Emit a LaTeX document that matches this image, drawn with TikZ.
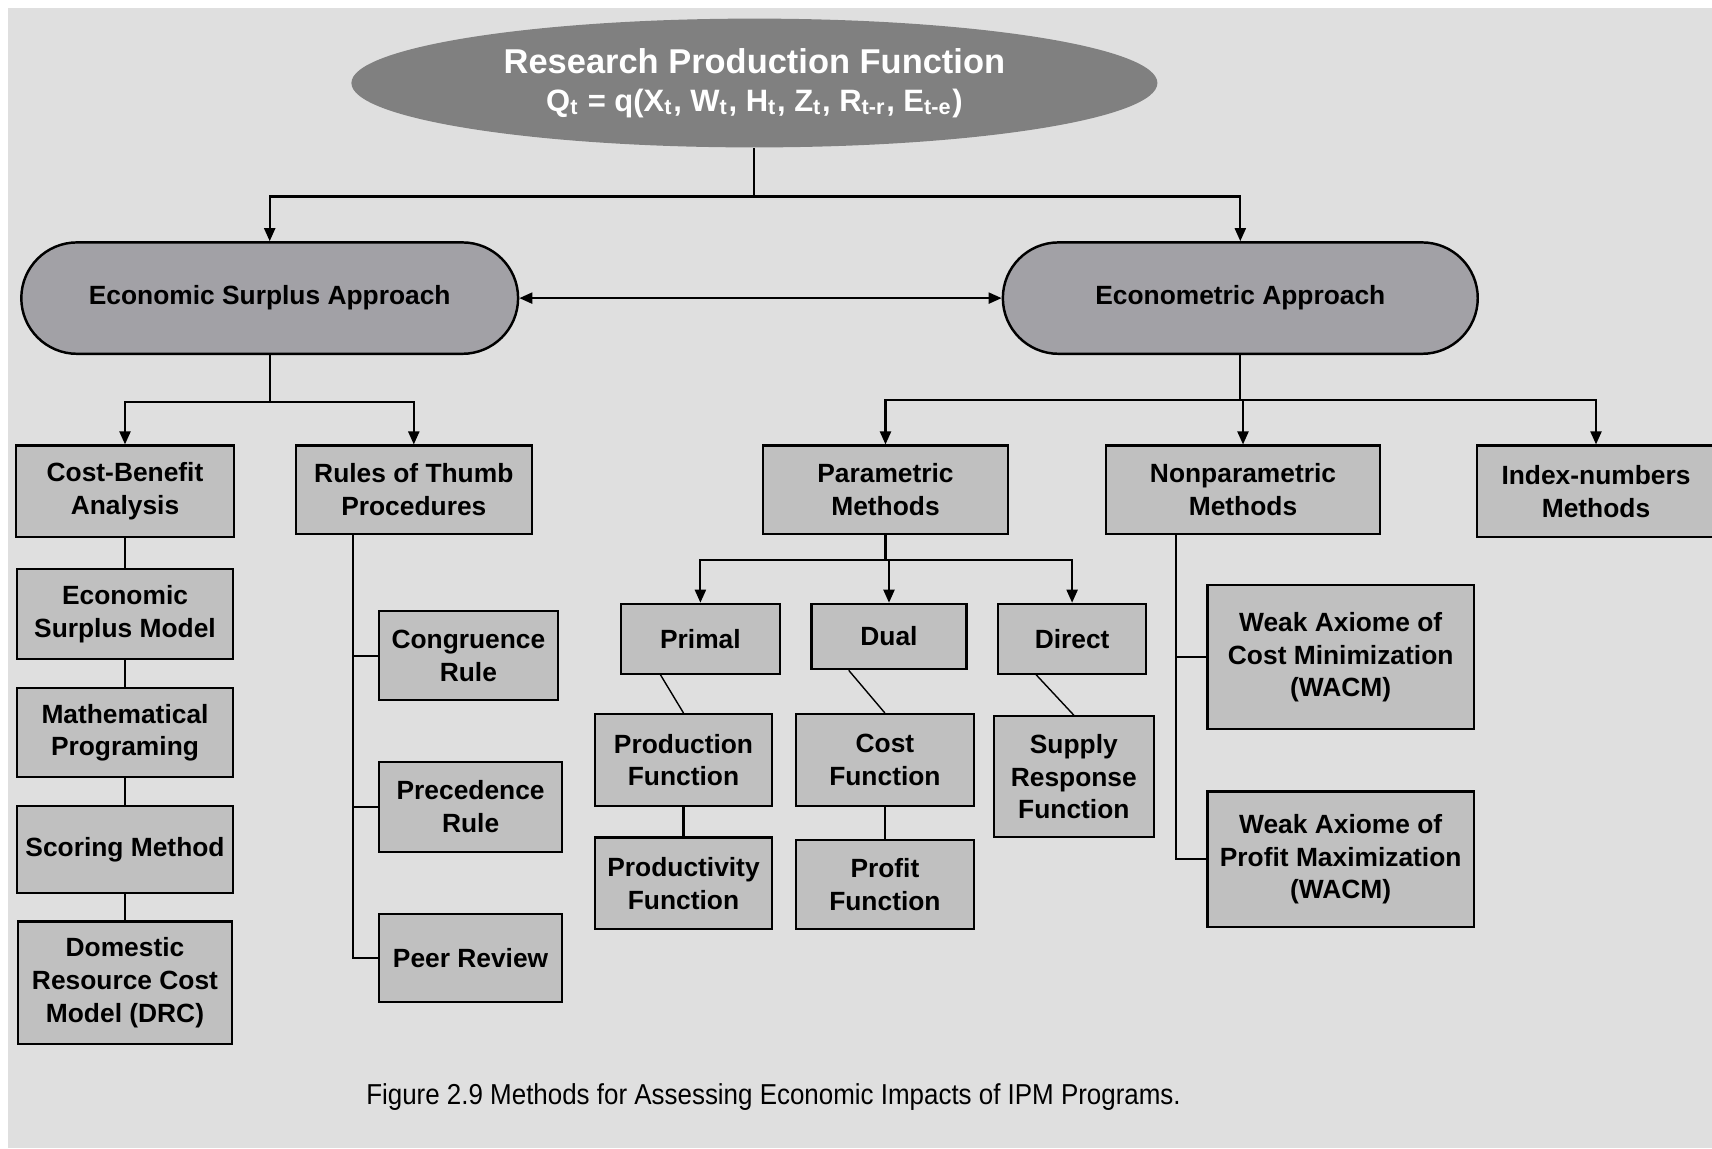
\documentclass[tikz,border=0pt]{standalone}
\usepackage{fontspec}
\setmainfont{Liberation Sans}
\newfontfamily\capfont[FakeStretch=0.9]{Liberation Sans}
\usepackage{xcolor}
\usetikzlibrary{arrows.meta}
\usetikzlibrary{shapes.geometric, shapes.misc, math}
\definecolor{bggray}{RGB}{223,223,223}
\definecolor{ellgray}{RGB}{128,128,128}
\definecolor{appgray}{RGB}{162,161,166}
\definecolor{boxgray}{RGB}{192,192,192}

\tikzset{
  box/.style={draw, line width=0.6pt, fill=boxgray, inner sep=0pt, align=center,
    font=\fontsize{7.5}{9.3}\selectfont\bfseries},
  approach/.style={draw, line width=0.7pt, fill=appgray, rounded rectangle, inner sep=0pt,
    minimum height=1.114cm, font=\fontsize{7.5}{9}\selectfont\bfseries},
  link/.style={line width=0.6pt},
  arr/.style={line width=0.6pt, -{Triangle[length=1.3mm,width=1.1mm]}},
}

\begin{document}
\begin{tikzpicture}[y=-1cm]
\tikzmath{
\W=17.12;
\H=11.48;
\yA=1.965;
\yB=4.018;
\yC=3.996;
\yD=5.601;
}
\useasboundingbox (0,0) rectangle (\W,\H);
\clip (0,0) rectangle (\W,\H);
\fill[bggray] (0.08,0.08) rectangle (\W,\H);

% top
\node[ellipse, fill=ellgray, minimum width=8.06cm, minimum height=1.288cm, inner sep=0pt,
  text=white, align=center] (rpf) at (7.544,0.83)
  {\fontsize{9.8}{11.5}\selectfont\bfseries Research Production Function\\[-1.3pt]
   \fontsize{8.8}{10.5}\selectfont\bfseries Q\textsubscript{t} = q(X\textsubscript{t}, W\textsubscript{t}, H\textsubscript{t}, Z\textsubscript{t}, R\textsubscript{t-r}, E\textsubscript{t-e})};

\node[approach, minimum width=4.968cm] (esa) at (2.697,2.981) {Economic Surplus Approach};
\node[approach, minimum width=4.749cm] (ea) at (12.403,2.981) {Econometric Approach};

% economic surplus side
\node[box, minimum width=2.18cm, minimum height=0.917cm] (cba) at (1.25,4.913) {Cost-Benefit\\Analysis};
\node[box, minimum width=2.16cm, minimum height=0.906cm] (esm) at (1.25,6.141) {Economic\\Surplus Model};
\node[box, minimum width=2.16cm, minimum height=0.895cm] (mp) at (1.25,7.326) {Mathematical\\Programing};
\node[box, minimum width=2.16cm, minimum height=0.874cm] (sm) at (1.25,8.494) {Scoring Method};
\node[box, minimum width=2.14cm, minimum height=1.223cm] (drc) at (1.25,9.826) {Domestic\\Resource Cost\\Model (DRC)};

\node[box, minimum width=2.358cm, minimum height=0.884cm] (rot) at (4.138,4.897) {Rules of Thumb\\Procedures};
\node[box, minimum width=1.79cm, minimum height=0.884cm] (cong) at (4.684,6.556) {Congruence\\Rule};
\node[box, minimum width=1.834cm, minimum height=0.895cm] (prec) at (4.706,8.068) {Precedence\\Rule};
\node[box, minimum width=1.834cm, minimum height=0.884cm] (peer) at (4.706,9.58) {Peer Review};

% econometric side
\node[box, minimum width=2.445cm, minimum height=0.884cm] (par) at (8.855,4.897) {Parametric\\Methods};
\node[box, minimum width=2.74cm, minimum height=0.884cm] (nonpar) at (12.43,4.897) {Nonparametric\\Methods};
\node[box, minimum width=2.38cm, minimum height=0.917cm] (idx) at (15.96,4.913) {Index-numbers\\Methods};

\node[box, minimum width=1.583cm, minimum height=0.699cm] (primal) at (7.004,6.387) {Primal};
\node[box, minimum width=1.55cm, minimum height=0.655cm] (dual) at (8.89,6.365) {Dual};
\node[box, minimum width=1.485cm, minimum height=0.699cm] (direct) at (10.721,6.387) {Direct};

\node[box, minimum width=1.769cm, minimum height=0.917cm] (prodf) at (6.835,7.599) {Production\\Function};
\node[box, minimum width=1.78cm, minimum height=0.917cm] (costf) at (8.849,7.599) {Cost\\Function};
\node[box, minimum width=1.605cm, minimum height=1.212cm] (supply) at (10.738,7.768) {Supply\\Response\\Function};
\node[box, minimum width=1.769cm, minimum height=0.917cm] (prody) at (6.835,8.833) {Productivity\\Function};
\node[box, minimum width=1.78cm, minimum height=0.895cm] (profit) at (8.849,8.844) {Profit\\Function};

\node[box, minimum width=2.664cm, minimum height=1.441cm] (wacm) at (13.407,6.573) {Weak Axiome of\\Cost Minimization\\(WACM)};
\node[box, minimum width=2.664cm, minimum height=1.354cm] (wapm) at (13.407,8.592) {Weak Axiome of\\Profit Maximization\\(WACM)};

\node[inner sep=0pt] (cap) at (7.735,10.973) {\capfont\fontsize{8.2}{10}\selectfont Figure 2.9 Methods for Assessing Economic Impacts of IPM Programs.};

% connectors
\coordinate (j0) at (7.544,\yA);
\draw[link] (rpf.south) -- (j0);
\draw[arr] (j0) -| (esa.north);
\draw[arr] (j0) -| (ea.north);
\draw[link, {Triangle[length=1.3mm,width=1.1mm]}-{Triangle[length=1.3mm,width=1.1mm]}] (esa.east) -- (ea.west);

\coordinate (j1) at (2.697,\yB);
\draw[link] (esa.south) -- (j1);
\draw[arr] (j1) -| (cba.north);
\draw[arr] (j1) -| (rot.north);

\draw[link] (cba.south) -- (esm.north);
\draw[link] (esm.south) -- (mp.north);
\draw[link] (mp.south) -- (sm.north);
\draw[link] (sm.south) -- (drc.north);

\coordinate (r0) at (3.527,5.339);
\draw[link] (r0) |- (peer.west);
\draw[link] (r0 |- cong.west) -- (cong.west);
\draw[link] (r0 |- prec.west) -- (prec.west);

\coordinate (j2) at (12.403,\yC);
\draw[link] (ea.south) -- (j2);
\draw[arr] (j2) -| (par.north);
\draw[arr] (j2) -| (nonpar.north);
\draw[arr] (j2) -| (idx.north);

\coordinate (j3) at (8.855,\yD);
\draw[link] (par.south) -- (j3);
\draw[arr] (j3) -| (primal.north);
\draw[arr] (j3) -| (dual.north);
\draw[arr] (j3) -| (direct.north);

\draw[line width=0.4pt] (primal.222) -- (prodf.north);
\draw[line width=0.4pt] (dual.220) -- (costf.north);
\draw[line width=0.4pt] (direct.225) -- (supply.north);
\draw[link] (prodf.south) -- (prody.north);
\draw[link] (costf.south) -- (profit.north);

\coordinate (n0) at (11.759,5.339);
\draw[link] (n0) |- (wapm.west);
\draw[link] (n0 |- wacm.west) -- (wacm.west);

\end{tikzpicture}
\end{document}
